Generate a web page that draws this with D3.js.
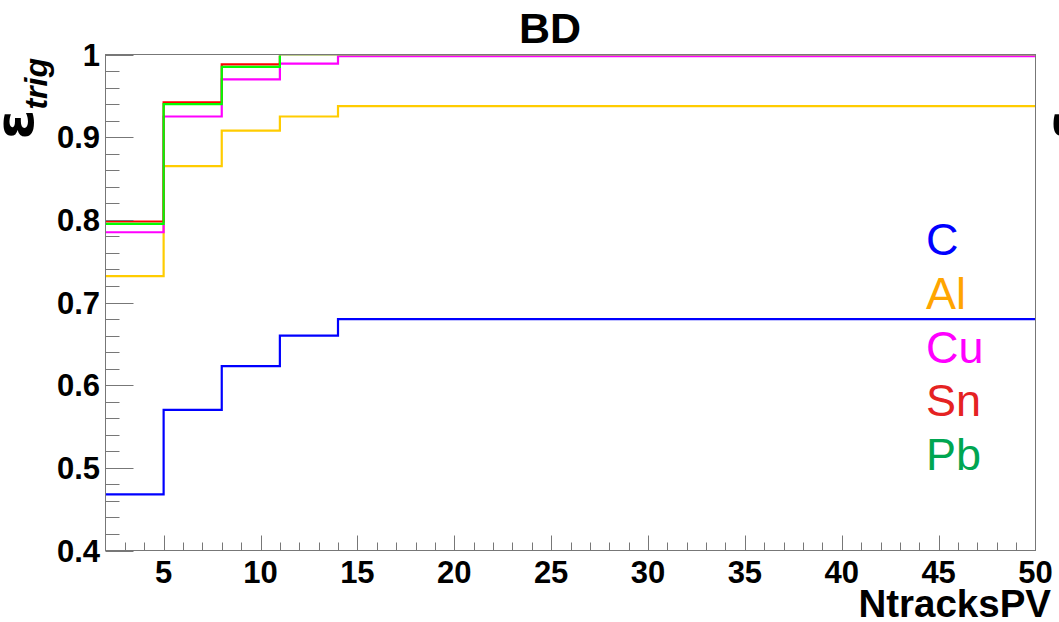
<!DOCTYPE html>
<html>
<head>
<meta charset="utf-8">
<script src="https://cdn.jsdelivr.net/npm/d3@7"></script>
<style>
  html, body { margin: 0; padding: 0; background: #fff; }
  svg { display: block; }
  text { font-family: "Liberation Sans", Arial, Helvetica, sans-serif; }
</style>
</head>
<body>
<svg id="chart" width="1059" height="622"></svg>
<script>
// Trigger efficiency vs. number of tracks at the primary vertex, per target
const binEdges = [2, 5, 8, 11, 14, 17, 20, 23, 26, 29, 32, 35, 38, 41, 44, 47, 50];
const targets = ["C", "Al", "Cu", "Sn", "Pb"];
const effC  = [0.468, 0.570, 0.623, 0.660, 0.680, 0.680, 0.680, 0.680, 0.680, 0.680, 0.680, 0.680, 0.680, 0.680, 0.680, 0.680];
const effAl = [0.732, 0.865, 0.908, 0.925, 0.9375, 0.9375, 0.9375, 0.9375, 0.9375, 0.9375, 0.9375, 0.9375, 0.9375, 0.9375, 0.9375, 0.9375];
const effCu = [0.785, 0.925, 0.970, 0.989, 0.998, 0.998, 0.998, 0.998, 0.998, 0.998, 0.998, 0.998, 0.998, 0.998, 0.998, 0.998];
const effSn = [0.798, 0.942, 0.988, 1.000, 1.000, 1.000, 1.000, 1.000, 1.000, 1.000, 1.000, 1.000, 1.000, 1.000, 1.000, 1.000];
const effPb = [0.795, 0.940, 0.985, 1.000, 1.000, 1.000, 1.000, 1.000, 1.000, 1.000, 1.000, 1.000, 1.000, 1.000, 1.000, 1.000];
const xTickLabels = [5, 10, 15, 20, 25, 30, 35, 40, 45, 50];
const yTickLabels = [0.4, 0.5, 0.6, 0.7, 0.8, 0.9, 1];

const seriesValues = [effC, effAl, effCu, effSn, effPb];
const lineColors  = ["#0000ff", "#ffcc00", "#ff00ff", "#ff0000", "#00ff00"];
const labelColors = ["#0000ff", "#ffa500", "#ff00ff", "#e52222", "#00a651"];

const svg = d3.select("#chart");
const frame = { left: 105.5, right: 1035.5, top: 54.5, bottom: 550.5 };

const x = d3.scaleLinear().domain([2, 50]).range([frame.left, frame.right]);
const y = d3.scaleLinear().domain([0.4, 1]).range([frame.bottom, frame.top]);

// clip for the histograms
svg.append("defs").append("clipPath").attr("id", "plotClip")
  .append("rect")
  .attr("x", frame.left).attr("y", frame.top + 1)
  .attr("width", frame.right - frame.left)
  .attr("height", frame.bottom - frame.top - 1);

// step histograms
const stepLine = d3.line().x(d => x(d[0])).y(d => y(d[1])).curve(d3.curveStepAfter);
const histG = svg.append("g").attr("clip-path", "url(#plotClip)");
seriesValues.forEach((vals, i) => {
  const pts = vals.map((v, j) => [binEdges[j], v]);
  pts.push([binEdges[binEdges.length - 1], vals[vals.length - 1]]);
  histG.append("path")
    .attr("d", stepLine(pts))
    .attr("fill", "none")
    .attr("stroke", lineColors[i])
    .attr("stroke-width", 2.2);
});

// frame
svg.append("rect")
  .attr("x", frame.left).attr("y", frame.top)
  .attr("width", frame.right - frame.left)
  .attr("height", frame.bottom - frame.top)
  .attr("fill", "none").attr("stroke", "#777").attr("stroke-width", 1);

// x axis
const xAxis = d3.axisBottom(x)
  .tickValues(d3.range(2, 51, 1))
  .tickSizeInner(0).tickSizeOuter(0).tickFormat("");
const xg = svg.append("g");
xg.selectAll("line.xt")
  .data(d3.range(3, 50, 1))
  .join("line")
  .attr("x1", d => Math.round(x(d)) + 0.5).attr("x2", d => Math.round(x(d)) + 0.5)
  .attr("y1", frame.bottom)
  .attr("y2", d => frame.bottom - (d % 5 === 0 ? 15 : 8))
  .attr("stroke", "#777").attr("stroke-width", 1);
xg.selectAll("text")
  .data(xTickLabels)
  .join("text")
  .attr("x", d => x(d))
  .attr("y", 583)
  .attr("text-anchor", "middle")
  .attr("font-size", 31).attr("font-weight", "bold").attr("fill", "#000")
  .text(d => d);

// y axis
const yg = svg.append("g");
yg.selectAll("line")
  .data(d3.range(0, 31, 1).map(k => 0.4 + k * 0.02))
  .join("line")
  .attr("y1", d => Math.round(y(d)) + 0.5).attr("y2", d => Math.round(y(d)) + 0.5)
  .attr("x1", frame.left)
  .attr("x2", (d, k) => frame.left + (k % 5 === 0 ? 28 : 14))
  .attr("stroke", "#777").attr("stroke-width", 1);
yg.selectAll("text")
  .data(yTickLabels)
  .join("text")
  .attr("x", 100)
  .attr("y", d => y(d))
  .attr("dy", "0.36em")
  .attr("text-anchor", "end")
  .attr("font-size", 31).attr("font-weight", "bold").attr("fill", "#000")
  .text(d => d3.format("")(d));

// title
svg.append("text")
  .attr("x", 550).attr("y", 43)
  .attr("text-anchor", "middle")
  .attr("font-size", 43).attr("font-weight", "bold")
  .text("BD");

// x title
svg.append("text")
  .attr("x", 1051).attr("y", 617)
  .attr("text-anchor", "end")
  .attr("font-size", 38.5).attr("font-weight", "bold")
  .text("NtracksPV");

// y title
function yTitle(tx) {
  const t = svg.append("text")
    .attr("transform", `translate(${tx},58) rotate(-90)`)
    .attr("text-anchor", "end")
    .attr("font-weight", "bold");
  t.append("tspan").attr("font-size", 54).attr("font-family", "DejaVu Sans").text("ε");
  t.append("tspan").attr("font-size", 32).attr("font-style", "italic").attr("dy", 14).text("trig");
}
yTitle(33);
yTitle(1083);

// target labels
svg.append("g").selectAll("text")
  .data(targets)
  .join("text")
  .attr("x", 926)
  .attr("y", (d, i) => 255 + i * 53.8)
  .attr("font-size", 45)
  .attr("fill", (d, i) => labelColors[i])
  .text(d => d);
</script>
</body>
</html>
